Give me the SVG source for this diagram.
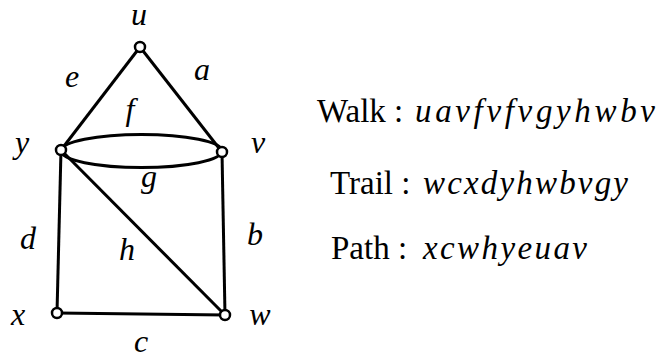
<svg xmlns="http://www.w3.org/2000/svg" width="660" height="356" viewBox="0 0 660 356">
<style>
.e{stroke:#000;stroke-width:3;fill:none}
.n{fill:#fff;stroke:#000;stroke-width:2.5}
.l{font-family:"Liberation Serif",serif;font-style:italic;font-size:32px;text-anchor:middle;fill:#000}
.t{font-family:"Liberation Serif",serif;font-size:33px;fill:#000}
.m{font-family:"Liberation Serif",serif;font-style:italic;font-size:33px;fill:#000}
</style>
<rect width="660" height="356" fill="#fff"/>
<g id="edges">
<line class="e" x1="140" y1="47" x2="61" y2="150"/>
<line class="e" x1="140" y1="47" x2="222" y2="152"/>
<ellipse class="e" cx="141.5" cy="151" rx="80.5" ry="16.5"/>
<line class="e" x1="61" y1="150" x2="57" y2="313"/>
<line class="e" x1="61" y1="150" x2="225" y2="315"/>
<line class="e" x1="222" y1="152" x2="225" y2="315"/>
<line class="e" x1="57" y1="313" x2="225" y2="315"/>
</g>
<g id="u"><circle class="n" cx="140" cy="47" r="5"/><text class="l" x="139" y="25">u</text></g>
<g id="y"><circle class="n" cx="61" cy="150" r="5"/><text class="l" x="22" y="153">y</text></g>
<g id="v"><circle class="n" cx="222" cy="152" r="5"/><text class="l" x="258" y="153">v</text></g>
<g id="x"><circle class="n" cx="57" cy="313" r="5"/><text class="l" x="18" y="325">x</text></g>
<g id="w"><circle class="n" cx="225" cy="315" r="5"/><text class="l" x="260" y="325">w</text></g>
<g id="labels">
<text class="l" x="72" y="87">e</text>
<text class="l" x="202" y="80">a</text>
<text class="l" x="130" y="120">f</text>
<text class="l" x="149" y="187">g</text>
<text class="l" x="28" y="249">d</text>
<text class="l" x="127" y="260">h</text>
<text class="l" x="255" y="245">b</text>
<text class="l" x="141" y="352">c</text>
</g>
<g id="text">
<text class="t" x="317" y="122">Walk :</text>
<text class="m" x="415" y="122" textLength="240" lengthAdjust="spacing">uavfvfvgyhwbv</text>
<text class="t" x="330" y="194">Trail :</text>
<text class="m" x="423" y="194" textLength="205" lengthAdjust="spacing">wcxdyhwbvgy</text>
<text class="t" x="331" y="259">Path :</text>
<text class="m" x="423" y="259" textLength="164" lengthAdjust="spacing">xcwhyeuav</text>
</g>
</svg>
